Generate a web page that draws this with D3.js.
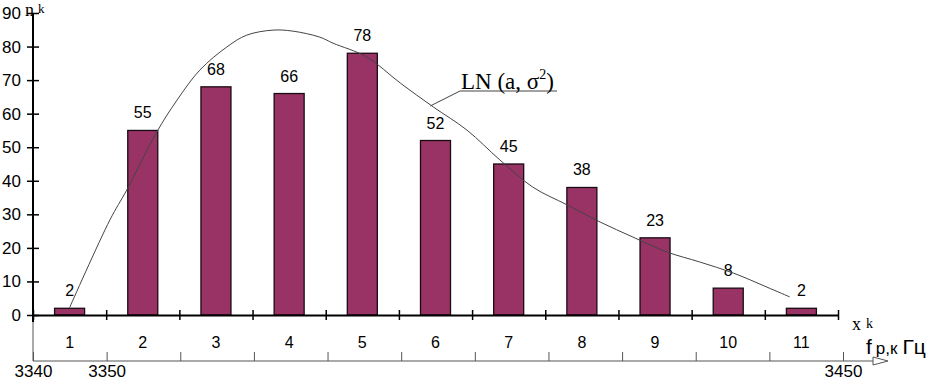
<!DOCTYPE html>
<html>
<head>
<meta charset="utf-8">
<script src="https://cdn.jsdelivr.net/npm/d3@7"></script>
<style>
  body { margin: 0; background: #fff; }
  svg { display: block; }
  .sans { font-family: "Liberation Sans", Arial, sans-serif; }
  .serif { font-family: "Liberation Serif", "Times New Roman", serif; }
</style>
</head>
<body>
<div id="chart"></div>
<script>
// bar categories and counts n_k
const categories = ["1", "2", "3", "4", "5", "6", "7", "8", "9", "10", "11"];
const counts = [2, 55, 68, 66, 78, 52, 45, 38, 23, 8, 2];
const yTicks = [0, 10, 20, 30, 40, 50, 60, 70, 80, 90];

// lower frequency axis, Hz
const freqTicks = [3340, 3350, 3360, 3370, 3380, 3390, 3400, 3410, 3420, 3430, 3440, 3450];
const freqLabels = [3340, 3350, 3450];

// LN(a, sigma^2) curve (x in category units)
const curveX = [1.0, 1.55, 1.78, 2.19, 2.47, 2.78, 3.15, 3.42, 3.78, 4.05, 4.42, 4.6, 5.06, 5.52,
                5.97, 6.43, 6.88, 7.33, 7.8, 8.25, 8.7, 9.16, 9.61, 10.07, 10.53, 10.84];
const curveY = [2.2, 28.3, 37.2, 54.5, 64.1, 73.0, 79.9, 83.4, 84.9, 84.6, 82.8, 81.0, 76.9, 69.1,
                62.0, 55.1, 46.2, 38.1, 32.8, 27.7, 23.2, 18.8, 15.8, 12.5, 8.3, 5.4];

const width = 930, height = 382;
const x0 = 33, x1 = 838, yBase = 315, yTop = 13, yLow = 361;

const svg = d3.select("#chart").append("svg")
    .attr("width", width)
    .attr("height", height);

const x = d3.scaleBand().domain(categories).range([x0, x1]).padding(0);
const xc = d3.scaleLinear().domain([0.5, categories.length + 0.5]).range([x0, x1]);
const y = d3.scaleLinear().domain([0, 90]).range([yBase, yTop]);
const f = d3.scaleLinear().domain([3340, 3450]).range([x0, 843]);

// lower frequency axis
const fAxis = svg.append("g")
    .attr("class", "sans")
    .attr("transform", "translate(0," + yLow + ")")
    .call(d3.axisBottom(f)
        .tickValues(freqTicks)
        .tickSizeInner(-9)
        .tickSizeOuter(0)
        .tickPadding(4)
        .tickFormat(d => freqLabels.includes(d) ? d : ""));
fAxis.select(".domain").remove();
fAxis.selectAll(".tick line").attr("stroke", "#555");
fAxis.selectAll("text").attr("font-size", 17).attr("fill", "#000");

svg.append("line")
    .attr("x1", x0).attr("x2", 873)
    .attr("y1", yLow).attr("y2", yLow)
    .attr("stroke", "#555").attr("stroke-width", 1);
svg.append("line")
    .attr("x1", x0).attr("x2", x0)
    .attr("y1", yBase).attr("y2", yLow)
    .attr("stroke", "#555").attr("stroke-width", 1);
svg.append("path")
    .attr("d", "M873,357 L888,361 L873,365 Z")
    .attr("fill", "#fff").attr("stroke", "#555").attr("stroke-width", 1);

// bars
const bw = x.bandwidth() * 0.41;
svg.selectAll("rect.bar")
    .data(counts)
    .enter()
    .append("rect")
    .attr("class", "bar")
    .attr("x", (d, i) => x(categories[i]) + (x.bandwidth() - bw) / 2)
    .attr("y", d => y(d))
    .attr("width", bw)
    .attr("height", d => yBase - y(d))
    .attr("fill", "#993366")
    .attr("stroke", "#1a0a12")
    .attr("stroke-width", 1.3);

// value labels
svg.selectAll("text.val")
    .data(counts)
    .enter()
    .append("text")
    .attr("class", "val sans")
    .attr("x", (d, i) => x(categories[i]) + x.bandwidth() / 2)
    .attr("y", d => y(d) - 12)
    .attr("text-anchor", "middle")
    .attr("font-size", 16)
    .text(d => d);

// curve
const pts = curveX.map((v, i) => [xc(v), y(curveY[i])]);
svg.append("path")
    .attr("d", d3.line().curve(d3.curveCatmullRom)(pts))
    .attr("fill", "none")
    .attr("stroke", "#444")
    .attr("stroke-width", 1);

// upper x axis (ticks at band edges)
const xAxis = svg.append("g")
    .attr("transform", "translate(0," + yBase + ")")
    .call(d3.axisBottom(xc)
        .tickValues(d3.range(0.5, categories.length + 1))
        .tickSize(5)
        .tickSizeOuter(0)
        .tickFormat(""));
xAxis.select(".domain").attr("stroke", "#000").attr("stroke-width", 2);
xAxis.selectAll(".tick line").attr("y1", -5).attr("stroke-width", 1.5);

const catAxis = svg.append("g")
    .attr("class", "sans")
    .attr("transform", "translate(0," + yBase + ")")
    .call(d3.axisBottom(x).tickSize(0).tickPadding(22));
catAxis.select(".domain").remove();
catAxis.selectAll("text").attr("font-size", 16).attr("fill", "#000");

// y axis
const yAxis = svg.append("g")
    .attr("class", "sans")
    .attr("transform", "translate(" + x0 + ",0)")
    .call(d3.axisLeft(y).tickValues(yTicks).tickSize(5).tickSizeOuter(0));
yAxis.select(".domain").attr("stroke", "#000").attr("stroke-width", 2)
    .attr("d", "M0," + yTop + "V" + (yBase + 7));
yAxis.selectAll(".tick line").attr("x2", -6).attr("x1", 6).attr("stroke-width", 1.5);
yAxis.selectAll("text").attr("x", -12).attr("font-size", 17).attr("fill", "#000");

// axis titles
const nk = svg.append("text").attr("class", "serif").attr("x", 25).attr("y", 16).attr("font-size", 18);
nk.append("tspan").text("n");
nk.append("tspan").attr("dx", 4).attr("dy", -3).attr("font-size", 13).text("k");

const xk = svg.append("text").attr("class", "serif").attr("x", 852).attr("y", 330).attr("font-size", 18);
xk.append("tspan").text("x");
xk.append("tspan").attr("dx", 5).attr("dy", -2).attr("font-size", 14).text("k");

const fp = svg.append("text").attr("class", "sans").attr("x", 866).attr("y", 354).attr("font-size", 21);
fp.append("tspan").text("f");
fp.append("tspan").attr("dx", 4).attr("font-size", 17).text("p,к");
fp.append("tspan").attr("dx", 5).text("Гц");

// LN(a, sigma^2) annotation
const anchor = pts[14];
svg.append("line")
    .attr("x1", anchor[0] - 3).attr("y1", anchor[1] - 1)
    .attr("x2", 460).attr("y2", 91)
    .attr("stroke", "#444").attr("stroke-width", 1);
svg.append("line")
    .attr("x1", 460).attr("x2", 557)
    .attr("y1", 91).attr("y2", 91)
    .attr("stroke", "#444").attr("stroke-width", 1);
const ln = svg.append("text").attr("class", "serif").attr("x", 461).attr("y", 89).attr("font-size", 23);
ln.append("tspan").text("LN (a, σ");
ln.append("tspan").attr("dy", -10).attr("font-size", 14).text("2");
ln.append("tspan").attr("dy", 10).text(")");
</script>
</body>
</html>
